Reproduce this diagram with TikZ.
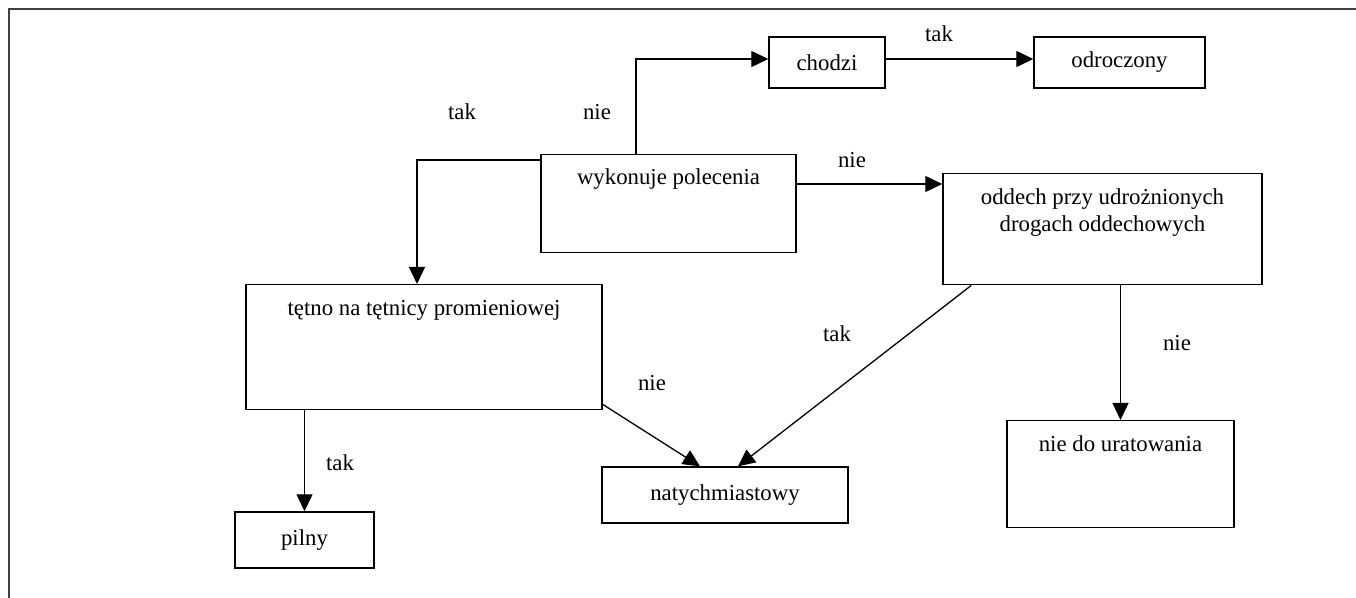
\documentclass[tikz,border=0pt]{standalone}
\usepackage{fontspec}
\setmainfont{Liberation Serif}
\usetikzlibrary{positioning, arrows.meta}

\begin{document}
\begin{tikzpicture}[x=0.5pt, y=-0.5pt, -{Triangle[length=8.5pt, width=8pt]},
      line width=0.65pt, inner sep=0pt,
      font=\fontsize{11.4}{13.5}\selectfont,
      box/.style={draw, line width=0.7pt, align=center},
      tallbox/.style={box, anchor=north, text height=15.5pt}]
      \useasboundingbox (0,0) rectangle (1356,598);
      % frame
      \draw[-, line width=1pt, black!75] (9,598) |- (1356,9);
      % wykonuje, chodzi, odroczony
      \node[tallbox, minimum width=127.5pt, text height=15pt, text depth=34pt] (wyk) at (668.5,154) {wykonuje polecenia};
      \node[box, minimum width=58pt, minimum height=25.5pt] (chodzi) at (827,62.5) {chodzi};
      \node[box, minimum width=85.5pt, minimum height=25.5pt] (odroczony) at (1119.5,62.5) {odroczony};
      \draw ([xshift=-16.25pt]wyk.north) |- ([yshift=1.75pt]chodzi.west);
      \path ([yshift=1.75pt]chodzi.east) edge ([yshift=1.75pt]odroczony.west);
      \node (t_chodzi) at (939,34) {tak};
      \node (n_wyk_chodzi) at (597,112) {nie};
      % oddech, nie do uratowania
      \node[tallbox, minimum width=159.5pt, text height=29pt, text depth=26.5pt] (oddech) at (1102.5,173) {oddech przy udrożnionych\\drogach oddechowych};
      \node[tallbox, minimum width=113.5pt, text depth=38pt] (nie_ur) at (1120.5,420) {nie do uratowania};
      \draw ([yshift=-15pt]wyk.north east) -- ([yshift=-5.5pt]oddech.north west);
      \path (oddech.south -| nie_ur.north) edge (nie_ur.north);
      \node (n_wyk_oddech) at (852,160) {nie};
      \node (n_oddech) at (1177,343) {nie};
      % tetno, pilny, natychmiastowy
      \node[tallbox, minimum width=178pt, text depth=47pt] (tetno) at (424,284) {tętno na tętnicy promieniowej};
      \node[box, minimum width=69.5pt, minimum height=28pt] (pilny) at (304.5,540) {pilny};
      \node[box, minimum width=123pt, minimum height=28pt] (natych) at (725,495) {natychmiastowy};
      \draw ([yshift=-3pt]wyk.north west) -| ([xshift=-3.5pt]tetno.north);
      \path (tetno.south -| pilny.north) edge (pilny.north);
      \path ([yshift=3pt]tetno.south east) edge ([xshift=-12.5pt]natych.north);
      \path ([xshift=14.5pt]oddech.south west) edge ([xshift=6.5pt]natych.north);
      \node (t_wyk_tetno) at (462,112) {tak};
      \node (t_tetno) at (340,463) {tak};
      \node (n_tetno) at (652,383) {nie};
      \node (t_oddech) at (837,334) {tak};
\end{tikzpicture}
\end{document}
